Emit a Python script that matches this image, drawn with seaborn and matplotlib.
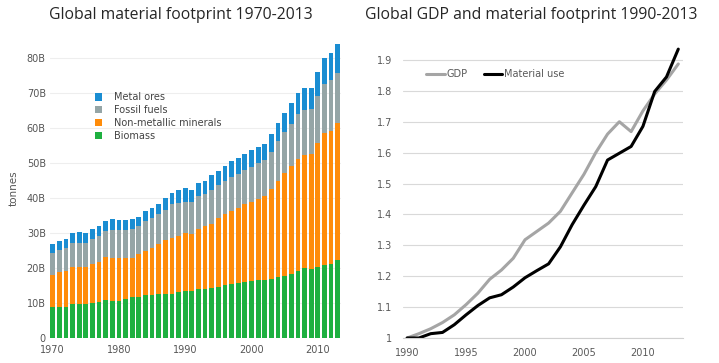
import numpy as np
import pandas as pd
import matplotlib
matplotlib.use("Agg")
import matplotlib.pyplot as plt
import seaborn as sns

# ---- data ----
years = list(range(1970, 2014))

biomass = [8.9, 8.9, 9.0, 9.6, 9.6, 9.8, 10.1, 10.4, 11.0, 10.7,
           10.7, 11.2, 11.7, 11.7, 12.2, 12.3, 12.5, 12.7, 12.7, 13.2,
           13.5, 13.5, 13.9, 14.0, 14.3, 14.5, 15.1, 15.3, 15.6, 16.0,
           16.2, 16.5, 16.7, 17.0, 17.5, 17.8, 18.2, 19.1, 19.9, 19.6,
           20.4, 21.0, 21.2, 22.2]
non_metallic = [9.0, 10.0, 10.1, 10.8, 10.6, 10.4, 11.0, 11.4, 12.1, 12.3,
                12.3, 11.8, 11.3, 12.3, 12.7, 13.5, 14.3, 15.2, 16.0, 16.0,
                16.5, 16.2, 17.4, 18.1, 18.2, 19.9, 20.3, 21.1, 21.7, 22.3,
                22.7, 23.2, 23.8, 25.6, 27.5, 29.3, 31.0, 32.2, 32.4, 33.0,
                35.3, 37.6, 38.0, 39.2]
fossil = [6.3, 6.2, 6.5, 6.7, 7.1, 6.9, 7.1, 7.4, 7.4, 7.9,
          7.9, 7.8, 8.1, 8.1, 8.6, 8.6, 8.6, 8.8, 9.6, 9.4,
          8.8, 9.1, 9.2, 9.0, 9.9, 9.4, 9.6, 9.5, 9.6, 9.7,
          10.1, 10.2, 10.4, 10.6, 11.4, 11.7, 12.1, 12.7, 12.9, 12.8,
          13.5, 14.0, 14.5, 14.5]
metal = [2.8, 2.6, 2.8, 2.9, 2.9, 2.9, 3.0, 2.9, 3.0, 3.1,
         2.9, 3.0, 2.9, 2.6, 2.9, 2.7, 3.0, 3.2, 3.2, 3.8,
         4.0, 3.6, 3.8, 3.8, 4.2, 4.0, 4.2, 4.6, 4.7, 4.5,
         4.7, 4.6, 4.7, 5.1, 5.2, 5.5, 5.8, 6.2, 6.2, 6.2,
         7.0, 7.4, 7.7, 8.1]

series_names = ["Metal ores", "Fossil fuels", "Non-metallic minerals", "Biomass"]
series_colors = ["#1a8dd2", "#95a5a6", "#ff8c0a", "#1eb040"]

idx_years = list(range(1990, 2014))
gdp = [1.0, 1.014, 1.03, 1.05, 1.075, 1.108, 1.145, 1.19, 1.22, 1.258,
       1.318, 1.345, 1.372, 1.41, 1.47, 1.53, 1.60, 1.66, 1.70, 1.668,
       1.735, 1.79, 1.835, 1.887]
material_use = [1.0, 1.0, 1.014, 1.018, 1.043, 1.075, 1.105, 1.13, 1.14, 1.165,
                1.195, 1.218, 1.24, 1.295, 1.367, 1.43, 1.49, 1.576, 1.598, 1.62,
                1.685, 1.798, 1.845, 1.935]

W, H = 719, 363
fig = plt.figure(figsize=(W / 100, H / 100), dpi=100)
sns.set_style("white")
plt.rcParams["font.family"] = ["DejaVu Sans"]

# ---- left: stacked bars ----
ax1 = fig.add_axes([50 / W, 25 / H, 291 / W, 299 / H])
df = pd.DataFrame({"year": years, "Biomass": biomass,
                   "Non-metallic minerals": non_metallic,
                   "Fossil fuels": fossil, "Metal ores": metal})
stack_order = ["Biomass", "Non-metallic minerals", "Fossil fuels", "Metal ores"]
cum = df[stack_order].cumsum(axis=1)
# draw from the top layer down so each one covers the layer above it
for name in stack_order[::-1]:
    col = series_colors[series_names.index(name)]
    sns.barplot(x=df["year"], y=cum[name], native_scale=True, color=col,
                width=0.72, saturation=1, ax=ax1, label=name, linewidth=0)

ax1.set_xlim(1969.6, 2013.5)
ax1.set_ylim(0, 85.5)
ax1.set_yticks(np.arange(0, 90, 10))
ax1.set_yticklabels(["0"] + [f"{v}B" for v in range(10, 90, 10)])
ax1.set_xticks([1970, 1980, 1990, 2000, 2010])
ax1.set_xticklabels(["1970", "1980", "1990", "2000", "2010"])
ax1.tick_params(axis="both", labelsize=7, colors="#555555", length=0)
ax1.tick_params(axis="y", pad=3)
ax1.tick_params(axis="x", pad=5)
ax1.grid(axis="y", color="#eeeeee", linewidth=0.8)
ax1.set_axisbelow(True)
for s in ax1.spines.values():
    s.set_visible(False)
ax1.set_xlabel("")
ax1.set_ylabel("tonnes", fontsize=7.5, color="#555555", labelpad=6)

handles, labels = ax1.get_legend_handles_labels()
order = [labels.index(n) for n in series_names]
ax1.legend([handles[i] for i in order], [labels[i] for i in order],
           loc="upper left", bbox_to_anchor=(0.14, 0.835), frameon=False,
           fontsize=7, labelcolor="#444444", handlelength=0.8, handleheight=0.8,
           handletextpad=1.2, labelspacing=0.3, borderaxespad=0)

# ---- right: index lines ----
ax2 = fig.add_axes([403 / W, 25 / H, 280 / W, 296.6 / H])
ldf = pd.DataFrame({
    "year": idx_years * 2,
    "value": gdp + material_use,
    "series": ["GDP"] * len(idx_years) + ["Material use"] * len(idx_years),
})
sns.lineplot(data=ldf, x="year", y="value", hue="series",
             palette={"GDP": "#a5a5a5", "Material use": "#000000"},
             linewidth=2.2, ax=ax2)
ax2.set_xlim(1989.65, 2013.4)
ax2.set_ylim(1.0, 1.96)
ax2.set_yticks(np.arange(1.0, 1.95, 0.1))
ax2.set_yticklabels(["1"] + [f"{v / 10:.1f}" for v in range(11, 20)])
ax2.set_xticks([1990, 1995, 2000, 2005, 2010])
ax2.set_xticks(idx_years, minor=True)
ax2.tick_params(axis="both", which="major", labelsize=7, colors="#595959")
ax2.tick_params(axis="y", length=0, pad=8)
ax2.tick_params(axis="x", which="both", length=3, color="#d0d0d0", pad=4)
ax2.grid(axis="y", color="#d9d9d9", linewidth=0.8)
ax2.set_axisbelow(True)
for side in ["left", "right", "top"]:
    ax2.spines[side].set_visible(False)
ax2.spines["bottom"].set_color("#d0d0d0")
ax2.set_xlabel("")
ax2.set_ylabel("")
ax2.legend(loc="upper left", bbox_to_anchor=(0.07, 0.92), frameon=False,
           ncol=2, fontsize=7, labelcolor="#595959", handlelength=1.9,
           handletextpad=0.2, columnspacing=1.6, borderaxespad=0)

# ---- titles ----
fig.text(181 / W, 1 - 15 / H, "Global material footprint 1970-2013",
         ha="center", va="center", fontsize=11.3, family="Open Sans")
fig.text(531 / W, 1 - 15 / H, "Global GDP and material footprint 1990-2013",
         ha="center", va="center", fontsize=11.3, family="Open Sans")

fig.savefig("out.png", dpi=100)
